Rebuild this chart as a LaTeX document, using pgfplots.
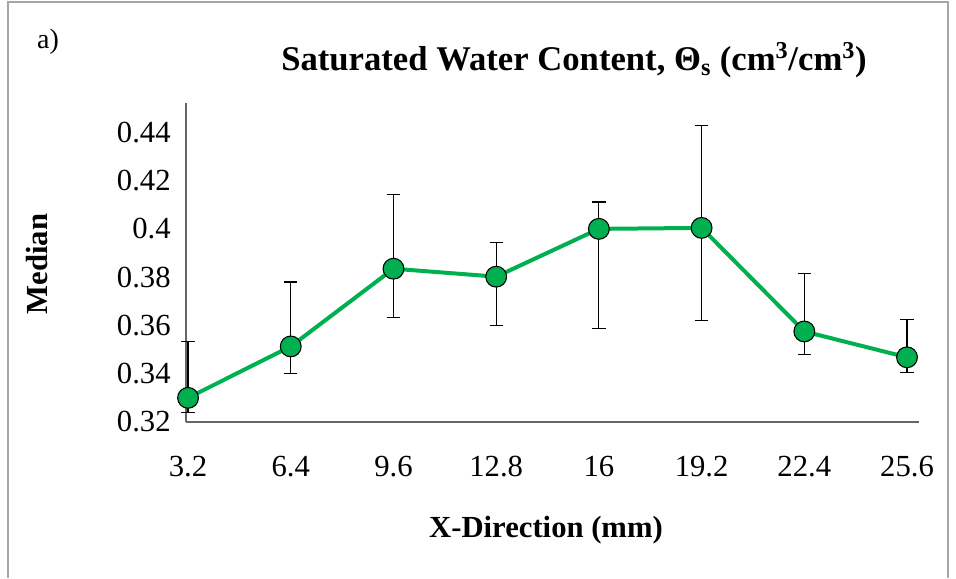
\documentclass[border=0pt]{standalone}
\usepackage{pgfplots}
\pgfplotsset{compat=1.18}
\usepackage{fontspec}
\setmainfont{Liberation Serif}
\definecolor{lgreen}{RGB}{0,176,80}
\begin{document}
\begin{tikzpicture}[x=0.75pt,y=0.75pt]
\path[use as bounding box] (0,0) rectangle (956,578);
\draw[gray!70,line width=1pt] (8,0) -- (8,576) -- (948,576) -- (948,0);
\begin{axis}[
  at={(186pt*0.75,156pt*0.75)}, anchor=origin,
  scale only axis, width=550pt, height=239pt,
  xmin=0.98, xmax=8.12, ymin=0.32, ymax=0.452,
  axis x line*=bottom, axis y line*=left,
  axis line style={black!60,line width=0.8pt},
  xtick={1,...,8}, xticklabels={3.2,6.4,9.6,12.8,16,19.2,22.4,25.6},
  ytick={0.32,0.34,...,0.441},
  yticklabel style={/pgf/number format/fixed,/pgf/number format/precision=2},
  /pgf/number format/assume math mode=true,
  major tick length=0pt,
  ticklabel style={font=\fontsize{23}{26}\selectfont},
  xticklabel style={yshift=-22pt},
  yticklabel style={xshift=-8pt},
  clip=false,
]
\addplot[lgreen, line width=3pt, mark=*, mark size=7.8pt,
  mark options={fill=lgreen,draw=black,line width=0.8pt},
  error bars/.cd, y dir=both, y explicit,
  error bar style={black,line width=0.9pt}, error mark options={black,line width=0.9pt,mark size=5pt,rotate=90}]
coordinates {
(1,0.330) += (0,0.0234) -= (0,0.006)
(2,0.3513) += (0,0.0267) -= (0,0.0113)
(3,0.3835) += (0,0.0309) -= (0,0.0202)
(4,0.3802) += (0,0.0140) -= (0,0.0202)
(5,0.400) += (0,0.0111) -= (0,0.0412)
(6,0.4004) += (0,0.0425) -= (0,0.0384)
(7,0.3575) += (0,0.0239) -= (0,0.0095)
(8,0.3468) += (0,0.0157) -= (0,0.0062)
};
\end{axis}
\node at (48,536) {\fontsize{21}{24}\selectfont a)};
\node at (574,518) {\fontsize{26}{30}\selectfont\bfseries Saturated Water Content, Θ\textsubscript{s} (cm\textsuperscript{3}/cm\textsuperscript{3})};
\node at (546,48) {\fontsize{23}{26}\selectfont\bfseries X-Direction (mm)};
\node[rotate=90] at (37,314) {\fontsize{23}{26}\selectfont\bfseries Median};
\end{tikzpicture}
\end{document}
